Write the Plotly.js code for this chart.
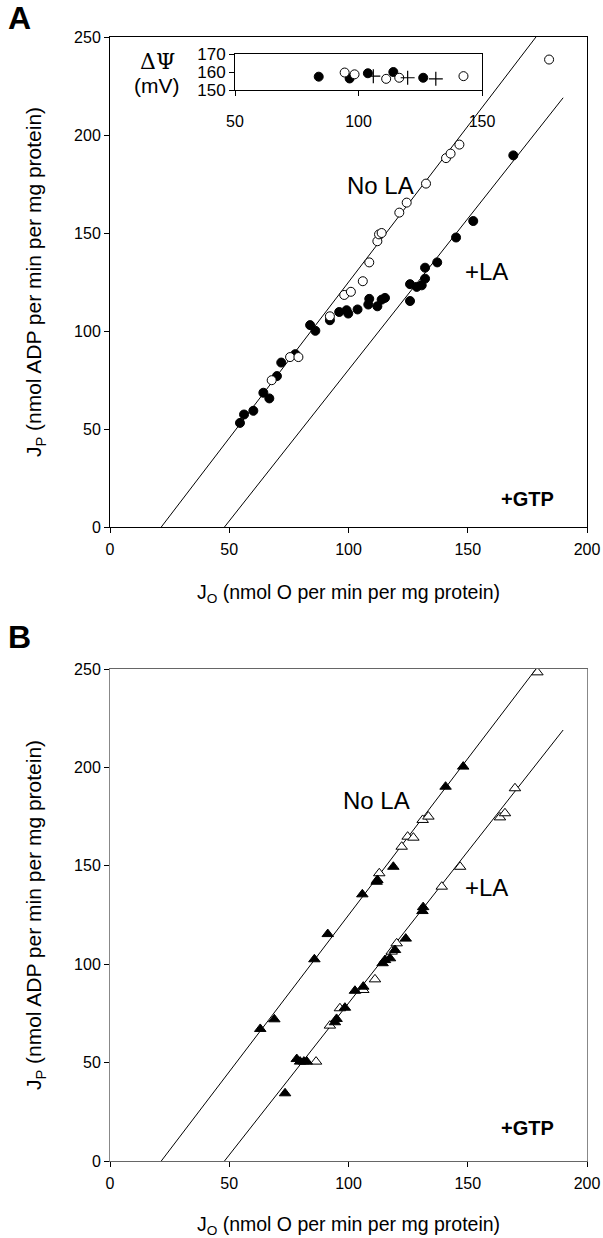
<!DOCTYPE html>
<html>
<head>
<meta charset="utf-8">
<script src="https://cdn.plot.ly/plotly-3.0.1.min.js"></script>
<style>html,body{margin:0;padding:0;background:#fff;}#chart{width:603px;height:1238px;}</style>
</head>
<body>
<div id="chart"></div>
<script>
// ---------- Panel A data ----------
var aNoLA_x = [67.8, 75.5, 79.0, 92.2, 98.2, 101.0, 106.0, 108.7, 112.1, 112.8, 113.9, 121.3, 124.4, 132.5, 140.9, 142.8, 146.5, 184.1];
var aNoLA_y = [74.9, 86.7, 86.7, 107.5, 118.4, 120.0, 125.4, 135.0, 145.8, 149.3, 150.0, 160.4, 165.5, 175.2, 188.2, 190.5, 195.1, 238.5];
var aLA_x = [54.5, 56.2, 60.1, 64.3, 66.8, 70.0, 71.8, 77.7, 83.9, 86.1, 92.2, 96.1, 99.2, 99.9, 103.8, 108.7, 108.3, 112.1, 113.9, 115.3, 125.8, 125.8, 128.6, 130.7, 132.1, 132.1, 137.2, 145.1, 152.3, 169.1];
var aLA_y = [53.1, 57.4, 59.3, 68.5, 65.6, 77.0, 83.9, 88.2, 103.0, 100.1, 105.5, 109.7, 110.6, 108.9, 111.0, 116.4, 113.5, 112.6, 116.0, 116.9, 123.9, 115.3, 122.5, 123.3, 126.7, 132.3, 135.0, 147.7, 156.1, 189.6];

// Inset (membrane potential)
var inFilled_x = [83.9, 96.4, 103.8, 114.1, 126.2];
var inFilled_y = [157.4, 156.4, 159.3, 160.0, 156.8];
var inOpen_x = [94.4, 98.4, 111.2, 116.5, 142.5];
var inOpen_y = [159.7, 158.7, 156.2, 156.8, 157.7];
var inPlus_x = [106.0, 119.9, 131.3];
var inPlus_y = [157.7, 156.8, 156.2];

// ---------- Panel B data ----------
var bNoLAfill_x = [63.0, 68.9, 85.7, 91.3, 105.8, 111.8, 112.1, 118.8, 140.7, 148.1];
var bNoLAfill_y = [67.1, 72.0, 102.5, 115.3, 135.5, 141.9, 142.8, 149.5, 190.2, 200.4];
var bNoLAopen_x = [112.9, 122.3, 124.8, 127.2, 131.1, 133.5, 179.2];
var bNoLAopen_y = [146.2, 159.7, 164.8, 164.3, 173.3, 175.0, 248.3];
var bLAfill_x = [73.4, 78.3, 79.7, 81.3, 82.5, 94.3, 95.0, 98.5, 102.7, 106.2, 114.3, 115.3, 117.4, 119.5, 124.0, 131.0, 131.3];
var bLAfill_y = [34.4, 51.8, 50.5, 50.5, 50.5, 70.5, 72.2, 77.9, 86.5, 88.6, 100.5, 102.1, 103.0, 107.2, 113.0, 127.0, 129.0];
var bLAopen_x = [86.4, 92.2, 96.4, 106.2, 111.1, 118.1, 120.2, 139.1, 146.8, 163.5, 165.6, 169.8];
var bLAopen_y = [50.5, 68.8, 77.6, 86.9, 92.3, 106.4, 110.6, 139.4, 149.5, 174.6, 176.7, 189.4];

// Regression lines (end points, data units)
var lineNoLA_x = [21.5, 178.6];
var lineNoLA_y = [0, 250];
var lineLA_x = [48.0, 190.0];
var lineLA_y = [0, 219];

var xTicks = [0, 50, 100, 150, 200];
var yTicks = [0, 50, 100, 150, 200, 250];
var inXTicks = [50, 100, 150];
var inYTicks = [150, 160, 170];

var FONT = 'Liberation Sans, Arial, sans-serif';

function lineTrace(x, y, xa, ya) {
  return {x: x, y: y, xaxis: xa, yaxis: ya, mode: 'lines', type: 'scatter',
          line: {color: '#000', width: 1}, hoverinfo: 'skip', showlegend: false};
}
function pts(x, y, xa, ya, symbol, size, fill) {
  return {x: x, y: y, xaxis: xa, yaxis: ya, mode: 'markers', type: 'scatter', showlegend: false,
          marker: {symbol: symbol, size: size, color: fill, line: {color: '#000', width: 1}}};
}

var traces = [
  lineTrace(lineNoLA_x, lineNoLA_y, 'x', 'y'),
  lineTrace(lineLA_x, lineLA_y, 'x', 'y'),
  pts(aLA_x, aLA_y, 'x', 'y', 'circle', 9, '#000'),
  pts(aNoLA_x, aNoLA_y, 'x', 'y', 'circle', 9, '#fff'),
  pts(inFilled_x, inFilled_y, 'x3', 'y3', 'circle', 9, '#000'),
  pts(inOpen_x, inOpen_y, 'x3', 'y3', 'circle', 9, '#fff'),
  {x: inPlus_x, y: inPlus_y, xaxis: 'x3', yaxis: 'y3', mode: 'markers', type: 'scatter', showlegend: false,
   marker: {symbol: 'cross-thin', size: 10, line: {color: '#000', width: 1.2}}},
  lineTrace(lineNoLA_x, lineNoLA_y, 'x2', 'y2'),
  lineTrace(lineLA_x, lineLA_y, 'x2', 'y2'),
  pts(bNoLAopen_x, bNoLAopen_y, 'x2', 'y2', 'triangle-up', 10, '#fff'),
  pts(bLAopen_x, bLAopen_y, 'x2', 'y2', 'triangle-up', 10, '#fff'),
  pts(bNoLAfill_x, bNoLAfill_y, 'x2', 'y2', 'triangle-up', 10, '#000'),
  pts(bLAfill_x, bLAfill_y, 'x2', 'y2', 'triangle-up', 10, '#000')
];

function xAxis(anchor, domain, color) {
  return {anchor: anchor, domain: domain, range: [0, 200], tickvals: xTicks, ticktext: xTicks.map(String),
          showgrid: false, zeroline: false, showline: true, linecolor: color, linewidth: 1, mirror: true,
          ticks: 'outside', ticklen: 5, tickcolor: '#000', ticklabelstandoff: 3,
          tickfont: {family: FONT, size: 16, color: '#000'},
          title: {text: 'J<sub>O</sub> (nmol O per min per mg protein)', font: {family: FONT, size: 19.5, color: '#000'}, standoff: 28}};
}
function yAxis(anchor, domain, color) {
  return {anchor: anchor, domain: domain, range: [0, 250], tickvals: yTicks, ticktext: yTicks.map(String),
          showgrid: false, zeroline: false, showline: true, linecolor: color, linewidth: 1, mirror: true,
          ticks: 'outside', ticklen: 5, tickcolor: '#000', tickfont: {family: FONT, size: 16, color: '#000'},
          title: {text: 'J<sub>P</sub> (nmol ADP per min per mg protein)', font: {family: FONT, size: 21, color: '#000'}, standoff: 26}};
}

var xd = [110/603, 587/603];
var layout = {
  width: 603, height: 1238,
  margin: {l: 0, r: 0, t: 0, b: 0},
  paper_bgcolor: '#fff', plot_bgcolor: 'rgba(0,0,0,0)',
  showlegend: false,
  xaxis: xAxis('y', xd, '#000'),
  yaxis: yAxis('x', [(1238-527)/1238, (1238-37)/1238], '#000'),
  xaxis2: xAxis('y2', xd, '#666'),
  yaxis2: yAxis('x2', [(1238-1161)/1238, (1238-669)/1238], '#888'),
  xaxis3: {anchor: 'y3', domain: [235/603, 482/603], range: [50, 150], tickvals: inXTicks, ticktext: inXTicks.map(String),
           showgrid: false, zeroline: false, showline: true, linecolor: '#000', linewidth: 1, mirror: true,
           ticks: 'outside', ticklen: 5, tickcolor: '#000', ticklabelstandoff: 12,
           tickfont: {family: FONT, size: 16, color: '#000'}},
  yaxis3: {anchor: 'x3', domain: [(1238-90)/1238, (1238-54)/1238], range: [150, 170], tickvals: inYTicks, ticktext: inYTicks.map(String),
           showgrid: false, zeroline: false, showline: true, linecolor: '#000', linewidth: 1, mirror: true,
           ticks: 'outside', ticklen: 5, tickcolor: '#000', tickfont: {family: FONT, size: 17, color: '#000'}},
  annotations: [
    {text: '<b>A</b>', xref: 'paper', yref: 'paper', x: 6/603, y: 1 - 18/1238, xanchor: 'left', yanchor: 'middle', showarrow: false, font: {family: FONT, size: 32, color: '#000'}},
    {text: '<b>B</b>', xref: 'paper', yref: 'paper', x: 6/603, y: 1 - 637/1238, xanchor: 'left', yanchor: 'middle', showarrow: false, font: {family: FONT, size: 32, color: '#000'}},
    {text: 'ΔΨ', xref: 'paper', yref: 'paper', x: 157/603, y: 1 - 62/1238, xanchor: 'center', yanchor: 'middle', showarrow: false, font: {family: 'DejaVu Serif, serif', size: 22, color: '#000'}},
    {text: '(mV)', xref: 'paper', yref: 'paper', x: 157/603, y: 1 - 86/1238, xanchor: 'center', yanchor: 'middle', showarrow: false, font: {family: FONT, size: 21, color: '#000'}},
    {text: 'No LA', xref: 'paper', yref: 'paper', x: 380/603, y: 1 - 185/1238, xanchor: 'center', yanchor: 'middle', showarrow: false, font: {family: FONT, size: 24, color: '#000'}},
    {text: '+LA', xref: 'paper', yref: 'paper', x: 486/603, y: 1 - 271/1238, xanchor: 'center', yanchor: 'middle', showarrow: false, font: {family: FONT, size: 24, color: '#000'}},
    {text: '<b>+GTP</b>', xref: 'paper', yref: 'paper', x: 527/603, y: 1 - 499/1238, xanchor: 'center', yanchor: 'middle', showarrow: false, font: {family: FONT, size: 20, color: '#000'}},
    {text: 'No LA', xref: 'paper', yref: 'paper', x: 376/603, y: 1 - 800/1238, xanchor: 'center', yanchor: 'middle', showarrow: false, font: {family: FONT, size: 24, color: '#000'}},
    {text: '+LA', xref: 'paper', yref: 'paper', x: 486/603, y: 1 - 887/1238, xanchor: 'center', yanchor: 'middle', showarrow: false, font: {family: FONT, size: 24, color: '#000'}},
    {text: '<b>+GTP</b>', xref: 'paper', yref: 'paper', x: 527/603, y: 1 - 1128/1238, xanchor: 'center', yanchor: 'middle', showarrow: false, font: {family: FONT, size: 20, color: '#000'}}
  ]
};

Plotly.newPlot('chart', traces, layout, {staticPlot: true, displayModeBar: false});
</script>
</body>
</html>
